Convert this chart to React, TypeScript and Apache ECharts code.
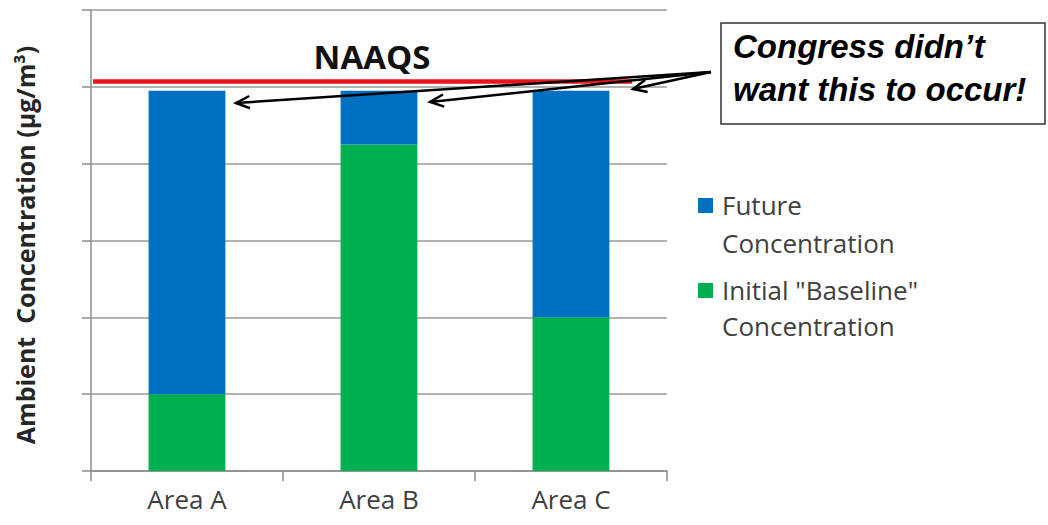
import React, { useEffect, useRef } from "react";
import * as echarts from "echarts";

const categories = ["Area A", "Area B", "Area C"];
const baselineValues = [1.0, 4.25, 2.0];
const futureValues = [3.95, 0.7, 2.95];
const naaqsValue = 5.07;
const yMax = 6;
const yInterval = 1;
const legendLabels = [
  ["Future", "Concentration"],
  ['Initial "Baseline"', "Concentration"],
];
const calloutLines = ["Congress didn\u2019t", "want this to occur!"];

const BLUE = "#0070c0";
const GREEN = "#00b050";
const AXIS = "#8c8c8c";
const TEXT = "#404040";

function arrowEls(from: number[], to: number[]) {
  const a = Math.atan2(to[1] - from[1], to[0] - from[0]);
  const len = 15;
  const ang = 0.42;
  const p1 = [to[0] - len * Math.cos(a - ang), to[1] - len * Math.sin(a - ang)];
  const p2 = [to[0] - len * Math.cos(a + ang), to[1] - len * Math.sin(a + ang)];
  const style = { stroke: "#000", lineWidth: 2.5, fill: null as any };
  return [
    { type: "line", z: 20, shape: { x1: from[0], y1: from[1], x2: to[0], y2: to[1] }, style },
    { type: "polyline", z: 20, shape: { points: [p1, to, p2] }, style },
  ];
}

export default function App() {
  const ref = useRef<HTMLDivElement>(null);
  useEffect(() => {
    if (!ref.current) return;
    const chart = echarts.init(ref.current, null, { renderer: "svg" });
    const option: any = {
      animation: false,
      backgroundColor: "#fff",
      grid: { left: 91, right: 381, top: 10, bottom: 54, containLabel: false },
      xAxis: {
        type: "category",
        data: categories,
        axisLine: { lineStyle: { color: AXIS, width: 1.5 } },
        axisTick: { show: true, length: 10, lineStyle: { color: AXIS, width: 1.5 } },
        axisLabel: { color: TEXT, fontSize: 26, fontFamily: "Open Sans", margin: 15 },
      },
      yAxis: {
        type: "value",
        min: 0,
        max: yMax,
        interval: yInterval,
        axisLine: { show: true, lineStyle: { color: AXIS, width: 1.5 } },
        axisTick: { show: true, length: 9, lineStyle: { color: AXIS, width: 1.5 } },
        axisLabel: { show: false },
        splitLine: { show: true, lineStyle: { color: "#9a9a9a", width: 1.5 } },
      },
      series: [
        {
          name: 'Initial "Baseline" Concentration',
          type: "bar",
          stack: "total",
          barWidth: "40%",
          data: baselineValues,
          itemStyle: { color: GREEN },
        },
        {
          name: "Future Concentration",
          type: "bar",
          stack: "total",
          barWidth: "40%",
          data: futureValues,
          itemStyle: { color: BLUE },
        },
      ],
    };
    chart.setOption(option);

    const yN = chart.convertToPixel({ yAxisIndex: 0 }, naaqsValue) as number;
    const start = [711, 72];
    const tips = [
      [236, 103],
      [430, 102],
      [633, 89],
    ];
    const graphics: any[] = [
      {
        type: "line",
        z: 10,
        shape: { x1: 93, y1: yN, x2: 632, y2: yN },
        style: { stroke: "#e8161b", lineWidth: 4.5 },
      },
      {
        type: "text",
        z: 10,
        x: 372,
        y: 56,
        style: {
          text: "NAAQS",
          fill: "#111",
          font: "bold 33px 'Open Sans'",
          align: "center",
          verticalAlign: "middle",
        },
      },
      {
        type: "text",
        z: 10,
        x: 25,
        y: 245,
        rotation: Math.PI / 2,
        style: {
          text: "Ambient  Concentration (\u00b5g/m\u00b3)",
          fill: "#262626",
          font: "bold 25px 'Open Sans'",
          align: "center",
          verticalAlign: "middle",
        },
      },
      {
        type: "rect",
        z: 10,
        shape: { x: 721, y: 23, width: 324, height: 101 },
        style: { fill: "#fff", stroke: "#333", lineWidth: 1.5 },
      },
      {
        type: "text",
        z: 11,
        x: 733,
        y: 46,
        style: {
          text: calloutLines[0],
          fill: "#000",
          font: "italic bold 33px 'Liberation Sans'",
          align: "left",
          verticalAlign: "middle",
        },
      },
      {
        type: "text",
        z: 11,
        x: 733,
        y: 89,
        style: {
          text: calloutLines[1],
          fill: "#000",
          font: "italic bold 33px 'Liberation Sans'",
          align: "left",
          verticalAlign: "middle",
        },
      },
      { type: "rect", z: 10, shape: { x: 698, y: 198, width: 15, height: 15 }, style: { fill: BLUE } },
      { type: "rect", z: 10, shape: { x: 698, y: 283, width: 15, height: 15 }, style: { fill: GREEN } },
    ];
    const legendY = [
      [205, 243],
      [290, 326],
    ];
    legendLabels.forEach((lines, i) => {
      lines.forEach((t, j) => {
        graphics.push({
          type: "text",
          z: 10,
          x: 722,
          y: legendY[i][j],
          style: {
            text: t,
            fill: TEXT,
            font: "26px 'Open Sans'",
            align: "left",
            verticalAlign: "middle",
          },
        });
      });
    });
    tips.forEach((t) => graphics.push(...arrowEls(start, t)));
    chart.setOption({ graphic: graphics });

    return () => chart.dispose();
  }, []);
  return (
    <div
      ref={ref}
      style={{ position: "fixed", left: 0, top: 0, width: 1048, height: 525, background: "#fff" }}
    />
  );
}
